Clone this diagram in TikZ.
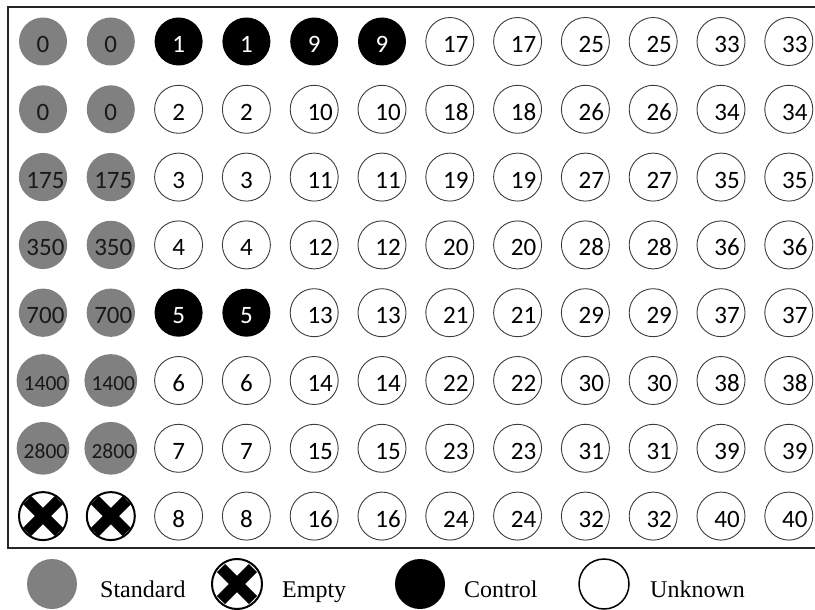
\documentclass[tikz,border=0pt]{standalone}
\usepackage{fontspec}
\setmainfont{Liberation Serif}
\newfontfamily\wellfont{Carlito}
\definecolor{StdGray}{RGB}{128,128,128}
\definecolor{RimGray}{RGB}{60,60,60}
\tikzset{
  well/.style={circle,minimum size=48pt,inner sep=0pt,text height=22pt,text depth=0pt,
    font=\wellfont\fontsize{25}{25}\selectfont},
  stdwell/.style={well,fill=StdGray,text=black!90},
  smallstd/.style={stdwell,font=\wellfont\fontsize{21.5}{21.5}\selectfont,text height=20.5pt},
  ctlwell/.style={well,fill=black,text=white},
  unkwell/.style={well,draw=RimGray,line width=0.9pt},
  emptywell/.style={well,draw=black,line width=2pt,
    path picture={
      \draw[line width=11.5pt] ([shift={(-16pt,-16pt)}]path picture bounding box.center)
        -- ([shift={(16pt,16pt)}]path picture bounding box.center);
      \draw[line width=11.5pt] ([shift={(-16pt,16pt)}]path picture bounding box.center)
        -- ([shift={(16pt,-16pt)}]path picture bounding box.center);}},
  legcircle/.style={minimum size=50pt},
  legtext/.style={anchor=base west,inner sep=0pt,font=\fontsize{24}{24}\selectfont},
}

\begin{document}
\begin{tikzpicture}[x=1pt,y=-1pt]
  \useasboundingbox (0,0) rectangle (815,610);
  % plate frame
  \draw[line width=1.8pt,black!85] (815,7) -- (8,7) -- (8,548) -- (815,548);

  % standards, columns 1 and 2
  \foreach \r/\v/\s in {1/0/stdwell,2/0/stdwell,3/\kern5pt175/stdwell,4/\kern5pt350/stdwell,
      5/\kern5pt700/stdwell,6/\kern5pt1400/smallstd,7/\kern5pt2800/smallstd}
    \foreach \c in {1,2}
      \node[\s] (w-\r-\c) at ({43+67.8*(\c-1)},{41.5+67.8*(\r-1)}) {\v};
  \foreach \c in {1,2}
    \node[emptywell] (w-8-\c) at ({43+67.8*(\c-1)},{41.5+67.8*7}) {};

  % samples and controls, columns 3 to 12
  \foreach \p in {0,...,4}
    \foreach \r in {1,...,8}
      \foreach \k in {0,1} {
        \pgfmathtruncatemacro{\n}{8*\p+\r}
        \pgfmathtruncatemacro{\c}{3+2*\p+\k}
        \pgfmathsetmacro{\x}{43+67.8*(\c-1)}
        \pgfmathsetmacro{\y}{41.5+67.8*(\r-1)}
        \def\wstyle{unkwell}
        \ifnum\n=1 \def\wstyle{ctlwell}\fi
        \ifnum\n=5 \def\wstyle{ctlwell}\fi
        \ifnum\n=9 \def\wstyle{ctlwell}\fi
        \ifnum\n>9 \def\wpad{\kern12pt}\else\def\wpad{}\fi
        \node[\wstyle] (w-\r-\c) at (\x,\y) {\wpad\n};
      }

  % legend
  \node[stdwell,legcircle] (legstd) at (52,584) {};
  \node[emptywell,legcircle] (legempty) at (237,584) {};
  \node[ctlwell,legcircle] (legctl) at (420,584) {};
  \node[unkwell,legcircle,draw=black,line width=1.5pt] (legunk) at (604,584) {};
  \node[legtext] (legstdtext) at (100,597) {Standard};
  \node[legtext] (legemptytext) at (282,597) {Empty};
  \node[legtext] (legctltext) at (464,597) {Control};
  \node[legtext] (legunktext) at (650,597) {Unknown};
\end{tikzpicture}
\end{document}
